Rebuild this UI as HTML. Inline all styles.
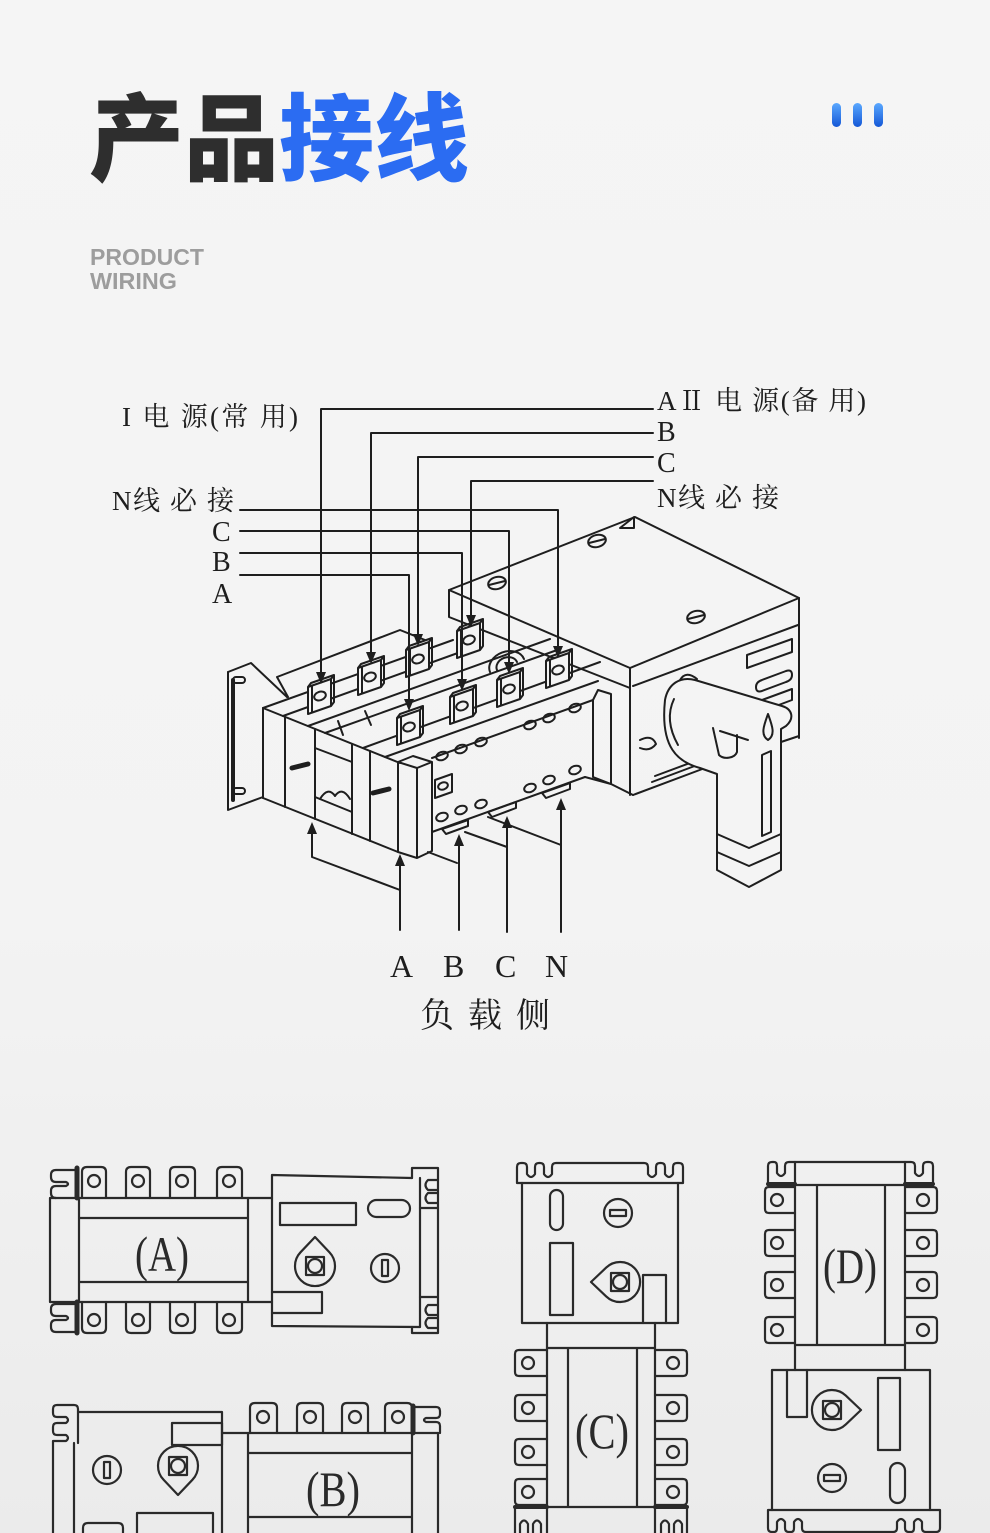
<!DOCTYPE html>
<html><head><meta charset="utf-8"><style>
html,body{margin:0;padding:0;}
body{width:990px;height:1533px;overflow:hidden;background:linear-gradient(to bottom,#f5f5f5 0%,#f3f3f3 60%,#ebebeb 100%);}
svg{display:block;}
.l{fill:none;stroke:#1e1e1e;stroke-width:2;stroke-linejoin:round;stroke-linecap:round;}
.v{fill:none;stroke:#2a2a2a;stroke-width:2.2;stroke-linejoin:round;stroke-linecap:round;}
.t{font-family:"Liberation Serif","Noto Serif CJK SC",serif;fill:#1e1e1e;}
</style></head><body>
<svg width="990" height="1533" viewBox="0 0 990 1533" xmlns="http://www.w3.org/2000/svg">
<defs>
<linearGradient id="bar" x1="0" y1="0" x2="0" y2="1"><stop offset="0" stop-color="#5aa8ff"/><stop offset="1" stop-color="#1457d6"/></linearGradient>
<g id="lug">
<polygon points="-12,-8 11,-16 11,11 -12,19" fill="#f4f4f4" stroke="#1e1e1e" stroke-width="2" stroke-linejoin="round"/>
<path d="M-12,-8 L-9,-12 L14,-20 L11,-16 M14,-20 V7 L11,11 M-8,-9.5 V17.5" fill="none" stroke="#1e1e1e" stroke-width="2" stroke-linejoin="round"/>
<ellipse cx="0" cy="1" rx="6" ry="4.2" transform="rotate(-20 0 1)" fill="none" stroke="#1e1e1e" stroke-width="2"/>
</g>
</defs>

<!-- Title -->
<text x="89" y="173" font-family="'Noto Sans CJK SC','WenQuanYi Zen Hei',sans-serif" font-weight="900" font-size="95" fill="#2e2e2e">产品<tspan fill="#2b6cf2">接线</tspan></text>
<rect x="832" y="103" width="9" height="24" rx="4.5" fill="url(#bar)"/>
<rect x="853" y="103" width="9" height="24" rx="4.5" fill="url(#bar)"/>
<rect x="874" y="103" width="9" height="24" rx="4.5" fill="url(#bar)"/>
<text x="90" y="265" font-family="'Liberation Sans',sans-serif" font-weight="700" font-size="23" fill="#9d9d9d" textLength="114" lengthAdjust="spacingAndGlyphs">PRODUCT</text>
<text x="90" y="289" font-family="'Liberation Sans',sans-serif" font-weight="700" font-size="23" fill="#9d9d9d" textLength="87" lengthAdjust="spacingAndGlyphs">WIRING</text>

<!-- Labels -->
<text class="t" x="122" y="426" font-size="27" textLength="176" lengthAdjust="spacing">I 电 源(常 用)</text>
<text class="t" x="657" y="410" font-size="27" textLength="209" lengthAdjust="spacing">AⅡ 电 源(备 用)</text>
<text class="t" x="657" y="441" font-size="28">B</text>
<text class="t" x="657" y="472" font-size="28">C</text>
<text class="t" x="657" y="507" font-size="27" textLength="122" lengthAdjust="spacing">N线 必 接</text>
<text class="t" x="112" y="510" font-size="27" textLength="122" lengthAdjust="spacing">N线 必 接</text>
<text class="t" x="212" y="541" font-size="28">C</text>
<text class="t" x="212" y="571" font-size="28">B</text>
<text class="t" x="212" y="603" font-size="28">A</text>
<text class="t" x="390" y="977" font-size="32">A</text>
<text class="t" x="443" y="977" font-size="32">B</text>
<text class="t" x="495" y="977" font-size="32">C</text>
<text class="t" x="545" y="977" font-size="32">N</text>
<text class="t" x="420" y="1027" font-size="34" textLength="130" lengthAdjust="spacing">负载侧</text>

<!-- Box (controller) -->
<g class="l">
<path d="M449,590 L635,517 L799,598 L630,668 Z"/>
<path d="M620,528 L634,517 L634,528 Z" fill="#f4f4f4"/>
<path d="M449,590 V617 L630,688"/>
<path d="M630,668 V795 M799,598 V738 M633,686 L798,625 M633,795 L705,768 M781,742 L799,736"/>
<path d="M652,782 L700,764 M655,776 L698,760"/>
<ellipse cx="597" cy="541" rx="9" ry="6" transform="rotate(-15 597 541)"/>
<path d="M589,543 L605,539"/>
<ellipse cx="497" cy="583" rx="9" ry="6" transform="rotate(-15 497 583)"/>
<path d="M489,585 L505,581"/>
<ellipse cx="696" cy="617" rx="9" ry="6" transform="rotate(-15 696 617)"/>
<path d="M688,619 L704,615"/>
<path d="M747,655 L792,639 L792,652 L747,668 Z"/>
<path d="M762,680 L786,671 Q792,669 792,675 Q792,680 786,682 L762,691 Q756,693 756,687 Q756,682 762,680 Z"/>
<path d="M762,700 L792,689 L792,700 L768,709"/>
</g>

<!-- Handle -->
<g class="l">
<path d="M665,700 C668,684 680,676 695,680 L782,706 C792,709 795,718 786,726 L781,729 L781,870 L749,887 L717,870 L717,774 L700,768 C678,762 660,748 665,700 Z" fill="#f4f4f4"/>
<path d="M717,834 L749,848 L781,834 M717,852 L749,866 L781,852"/>
<path d="M762,755 L771,751 V832 L762,836 Z"/>
<path d="M768,714 C764,725 760,735 768,740 C776,735 772,725 768,714 Z"/>
<path d="M713,728 L719,755 C724,760 735,758 737,752 L737,735 M720,731 L748,740"/>
<path d="M680,680 Q686,670 697,679"/>
<path d="M674,699 Q664,720 678,745"/>
<path d="M640,740 Q652,734 656,744 Q650,752 640,748"/>
</g>

<!-- Switch body -->
<g class="l">
<!-- bracket -->
<path d="M228,672 L251,663 L287,697"/>
<path d="M228,672 V810 L263,797"/>
<path d="M233,680 V800" stroke-width="4"/>
<rect x="233" y="677" width="12" height="6" rx="3"/>
<rect x="233" y="788" width="12" height="6" rx="3"/>
<!-- left face -->
<path d="M263,708 L400,763 M263,798 L398,852"/>
<path d="M263,708 V798 M285,717 V807 M315,729 V819 M352,744 V834 M370,751 V841"/>
<path d="M315,748 L352,762 M315,797 L352,812"/>
<path d="M320,799 Q328,786 335,796 Q342,786 350,799"/>
<path d="M292,768 L308,764 M373,793 L389,789" stroke-width="5"/>
<!-- front block -->
<path d="M398,762 L413,756 L432,762 L417,768 Z M398,762 V852 L417,858 L432,851 V762 M417,768 V858"/>
<!-- panel -->
<path d="M432,758 L593,700 M432,832 L585,777"/>
<path d="M593,700 V777 L611,784 V694 L598,690 L593,700 M611,784 L633,795"/>
<path d="M585,777 L611,784"/>
<path d="M435,780 L452,774 V792 L435,798 Z"/>
<ellipse cx="443" cy="786" rx="5" ry="3.5" transform="rotate(-20 443 786)"/>
<g>
<ellipse cx="442" cy="756" rx="6" ry="4" transform="rotate(-20 442 756)"/>
<ellipse cx="461" cy="749" rx="6" ry="4" transform="rotate(-20 461 749)"/>
<ellipse cx="481" cy="742" rx="6" ry="4" transform="rotate(-20 481 742)"/>
<ellipse cx="530" cy="725" rx="6" ry="4" transform="rotate(-20 530 725)"/>
<ellipse cx="549" cy="718" rx="6" ry="4" transform="rotate(-20 549 718)"/>
<ellipse cx="575" cy="708" rx="6" ry="4" transform="rotate(-20 575 708)"/>
<ellipse cx="442" cy="817" rx="6" ry="4" transform="rotate(-20 442 817)"/>
<ellipse cx="461" cy="810" rx="6" ry="4" transform="rotate(-20 461 810)"/>
<ellipse cx="481" cy="804" rx="6" ry="4" transform="rotate(-20 481 804)"/>
<ellipse cx="530" cy="788" rx="6" ry="4" transform="rotate(-20 530 788)"/>
<ellipse cx="549" cy="780" rx="6" ry="4" transform="rotate(-20 549 780)"/>
<ellipse cx="575" cy="770" rx="6" ry="4" transform="rotate(-20 575 770)"/>
</g>
<!-- load tabs -->
<path d="M442,829 L468,820 V826 L446,834 Z M488,812 L516,802 V808 L492,817 Z M542,793 L570,783 V789 L546,798 Z"/>
<path d="M428,852 L457,863 M465,832 L507,847 M488,817 L561,845"/>
<!-- top surface -->
<path d="M277,677 L400,630 L425,640 M277,677 L288,697"/>
<path d="M263,708 L453,640"/>
<path d="M283,716 L480,645"/>
<path d="M308,726 L550,639"/>
<path d="M325,733 L560,649"/>
<path d="M363,748 L600,662"/>
<path d="M385,757 L598,681"/>
<path d="M338,721 L343,735 M365,711 L371,725"/>
<path d="M490,672 A17,13 -20 0 1 524,659 M497,670 A10,8 -20 0 1 517,662"/>
</g>

<!-- lugs -->
<use href="#lug" x="320" y="695"/>
<use href="#lug" x="370" y="676"/>
<use href="#lug" x="418" y="658"/>
<use href="#lug" x="469" y="639"/>
<use href="#lug" x="558" y="669"/>
<use href="#lug" x="509" y="688"/>
<use href="#lug" x="462" y="705"/>
<use href="#lug" x="409" y="726"/>

<!-- leader lines -->
<g class="l">
<path d="M653,409 H321 V672"/>
<path d="M653,433 H371 V652"/>
<path d="M653,457 H418 V634"/>
<path d="M653,481 H471 V615"/>
<path d="M240,510 H558 V646"/>
<path d="M240,531 H509 V662"/>
<path d="M240,553 H462 V679"/>
<path d="M240,575 H409 V699"/>
<path d="M312,834 V857 L400,890"/>
<path d="M400,866 V930 M459,846 V930 M507,828 V932 M561,810 V932"/>
</g>
<g fill="#1e1e1e">
<polygon points="316,672 326,672 321,684"/>
<polygon points="366,652 376,652 371,664"/>
<polygon points="413,634 423,634 418,646"/>
<polygon points="466,615 476,615 471,627"/>
<polygon points="553,646 563,646 558,658"/>
<polygon points="504,662 514,662 509,674"/>
<polygon points="457,679 467,679 462,691"/>
<polygon points="404,699 414,699 409,711"/>
<polygon points="307,834 317,834 312,822"/>
<polygon points="395,866 405,866 400,854"/>
<polygon points="454,846 464,846 459,834"/>
<polygon points="502,828 512,828 507,816"/>
<polygon points="556,810 566,810 561,798"/>
</g>

<!-- ===== View A ===== -->
<g class="v">
<path d="M82,1198 V1172 Q82,1167 87,1167 H101 Q106,1167 106,1172 V1198"/>
<path d="M126,1198 V1172 Q126,1167 131,1167 H145 Q150,1167 150,1172 V1198"/>
<path d="M170,1198 V1172 Q170,1167 175,1167 H190 Q195,1167 195,1172 V1198"/>
<path d="M217,1198 V1172 Q217,1167 222,1167 H237 Q242,1167 242,1172 V1198"/>
<circle cx="94" cy="1181" r="6"/><circle cx="138" cy="1181" r="6"/><circle cx="182" cy="1181" r="6"/><circle cx="229" cy="1181" r="6"/>
<path d="M82,1302 V1328 Q82,1333 87,1333 H101 Q106,1333 106,1328 V1302"/>
<path d="M126,1302 V1328 Q126,1333 131,1333 H145 Q150,1333 150,1328 V1302"/>
<path d="M170,1302 V1328 Q170,1333 175,1333 H190 Q195,1333 195,1328 V1302"/>
<path d="M217,1302 V1328 Q217,1333 222,1333 H237 Q242,1333 242,1328 V1302"/>
<circle cx="94" cy="1320" r="6"/><circle cx="138" cy="1320" r="6"/><circle cx="182" cy="1320" r="6"/><circle cx="229" cy="1320" r="6"/>
<path d="M78,1170 H56 Q51,1170 51,1175 V1177 Q51,1182 56,1182 H66 Q70,1184 66,1186 H56 Q51,1186 51,1191 V1193 Q51,1198 56,1198"/>
<path d="M78,1304 H56 Q51,1304 51,1309 V1311 Q51,1316 56,1316 H66 Q70,1318 66,1320 H56 Q51,1320 51,1325 V1327 Q51,1332 56,1332 H78"/>
<path d="M77,1168 V1198 M77,1302 V1333" stroke-width="5"/>
<rect x="50" y="1198" width="198" height="104"/>
<path d="M79,1198 V1302 M79,1218 H247 M79,1282 H247"/>
<path d="M248,1198 H272 M248,1302 H272"/>
<path d="M272,1175 L412,1178 M272,1175 V1326 L420,1327 M420,1178 V1327"/>
<path d="M412,1178 V1168 H438 V1208 H420 M438,1180 H428 Q423,1185 428,1190 H438 M438,1193 H428 Q423,1198 428,1203 H438"/>
<path d="M438,1208 V1297 M420,1297 H438 V1333 H412 V1327 M438,1305 H428 Q423,1310 428,1315 H438 M438,1318 H428 Q423,1323 428,1328 H438"/>
<rect x="280" y="1203" width="76" height="22"/>
<rect x="368" y="1200" width="42" height="17" rx="8.5"/>
<path d="M315,1237 L329.4,1252.2 A20,20 0 1 1 300.6,1252.2 Z"/>
<rect x="306" y="1257" width="18" height="18"/><circle cx="315" cy="1266" r="7"/>
<circle cx="385" cy="1268" r="14"/><rect x="382" y="1260" width="6" height="16"/>
<path d="M272,1292 H322 V1313 H272"/>
</g>
<text x="135" y="1271" font-family="'Liberation Serif',serif" font-size="50" fill="#2a2a2a" textLength="54" lengthAdjust="spacingAndGlyphs">(A)</text>

<!-- ===== View B ===== -->
<g class="v">
<path d="M78,1412 V1409 Q78,1405 74,1405 H57 Q53,1405 53,1409 V1413 Q53,1417 57,1417 H66 Q70,1420 66,1423 H57 Q53,1423 53,1427 V1431 Q53,1435 57,1435 H66 Q70,1438 66,1441 H53 V1533"/>
<path d="M74,1443 V1533 M78,1412 H222 V1533 M78,1412 V1443"/>
<rect x="172" y="1423" width="50" height="22"/>
<circle cx="107" cy="1470" r="14"/><rect x="104" y="1462" width="6" height="16"/>
<path d="M178,1495 L163.6,1479.8 A20,20 0 1 1 192.4,1479.8 Z"/>
<rect x="169" y="1457" width="18" height="18"/><circle cx="178" cy="1466" r="7"/>
<path d="M137,1535 V1513 H213 V1535 M83,1535 V1528 Q83,1523 88,1523 H118 Q123,1523 123,1528 V1535"/>
<path d="M222,1433 H248 M248,1433 V1535 M412,1433 V1535 M248,1433 H438 M248,1453 H412 M248,1517 H412"/>
<path d="M250,1433 V1408 Q250,1403 255,1403 H272 Q277,1403 277,1408 V1433"/>
<path d="M297,1433 V1408 Q297,1403 302,1403 H318 Q323,1403 323,1408 V1433"/>
<path d="M342,1433 V1408 Q342,1403 347,1403 H363 Q368,1403 368,1408 V1433"/>
<path d="M385,1433 V1408 Q385,1403 390,1403 H407 Q412,1403 412,1408 V1433"/>
<circle cx="263" cy="1417" r="6"/><circle cx="310" cy="1417" r="6"/><circle cx="355" cy="1417" r="6"/><circle cx="398" cy="1417" r="6"/>
<path d="M413,1406 V1433" stroke-width="5"/>
<path d="M415,1407 H436 Q440,1407 440,1411 V1414 Q440,1418 436,1418 H426 Q422,1420 426,1422 H436 Q440,1422 440,1426 V1433 M438,1433 V1535"/>
</g>
<text x="306" y="1506" font-family="'Liberation Serif',serif" font-size="50" fill="#2a2a2a" textLength="54" lengthAdjust="spacingAndGlyphs">(B)</text>

<!-- ===== View C ===== -->
<g class="v">
<path d="M522,1183 H517 V1167 Q517,1163 521,1163 H523 Q527,1163 527,1167 V1174 Q531,1180 535,1174 V1167 Q535,1163 539,1163 H540 Q544,1163 544,1167 V1174 Q548,1180 552,1174 V1167 Q552,1163 556,1163 H644 Q648,1163 648,1167 V1174 Q652,1180 656,1174 V1167 Q656,1163 660,1163 H661 Q665,1163 665,1167 V1174 Q669,1180 673,1174 V1167 Q673,1163 677,1163 H679 Q683,1163 683,1167 V1183 H678"/>
<rect x="522" y="1183" width="156" height="140"/>
<rect x="550" y="1190" width="13" height="40" rx="6.5"/>
<circle cx="618" cy="1213" r="14"/><rect x="610" y="1210" width="16" height="6"/>
<rect x="550" y="1243" width="23" height="72"/>
<path d="M591,1282 L606.2,1267.6 A20,20 0 1 1 606.2,1296.4 Z"/>
<rect x="611" y="1273" width="18" height="18"/><circle cx="620" cy="1282" r="7"/>
<path d="M643,1323 V1275 H666 V1323"/>
<path d="M547,1323 V1535 M655,1323 V1535 M547,1348 H655 M568,1348 V1507 M637,1348 V1507 M547,1507 H655"/>
<path d="M547,1350 H519 Q515,1350 515,1354 V1372 Q515,1376 519,1376 H547"/>
<path d="M547,1395 H519 Q515,1395 515,1399 V1417 Q515,1421 519,1421 H547"/>
<path d="M547,1439 H519 Q515,1439 515,1443 V1461 Q515,1465 519,1465 H547"/>
<path d="M547,1479 H519 Q515,1479 515,1483 V1501 Q515,1505 519,1505 H547"/>
<path d="M655,1350 H683 Q687,1350 687,1354 V1372 Q687,1376 683,1376 H655"/>
<path d="M655,1395 H683 Q687,1395 687,1399 V1417 Q687,1421 683,1421 H655"/>
<path d="M655,1439 H683 Q687,1439 687,1443 V1461 Q687,1465 683,1465 H655"/>
<path d="M655,1479 H683 Q687,1479 687,1483 V1501 Q687,1505 683,1505 H655"/>
<circle cx="528" cy="1363" r="6"/><circle cx="528" cy="1408" r="6"/><circle cx="528" cy="1452" r="6"/><circle cx="528" cy="1492" r="6"/>
<circle cx="673" cy="1363" r="6"/><circle cx="673" cy="1408" r="6"/><circle cx="673" cy="1452" r="6"/><circle cx="673" cy="1492" r="6"/>
<path d="M515,1507 H547 M655,1507 H687" stroke-width="4"/>
<path d="M515,1509 V1535 M520,1535 V1524 Q524,1517 528,1524 V1535 M533,1535 V1524 Q537,1517 541,1524 V1535"/>
<path d="M687,1509 V1535 M682,1535 V1524 Q678,1517 674,1524 V1535 M669,1535 V1524 Q665,1517 661,1524 V1535"/>
</g>
<text x="575" y="1448" font-family="'Liberation Serif',serif" font-size="50" fill="#2a2a2a" textLength="54" lengthAdjust="spacingAndGlyphs">(C)</text>

<!-- ===== View D ===== -->
<g class="v">
<path d="M795,1185 H768 V1166 Q768,1162 772,1162 H774 Q777,1162 777,1166 V1173 Q781,1179 785,1173 V1166 Q785,1162 789,1162 H911 Q915,1162 915,1166 V1173 Q919,1179 923,1173 V1166 Q923,1162 927,1162 H929 Q933,1162 933,1166 V1185 H905"/>
<path d="M768,1184 H795 M905,1184 H933" stroke-width="4"/>
<path d="M795,1162 V1370 M905,1162 V1370 M795,1185 H905 M795,1345 H905 M817,1185 V1345 M885,1185 V1345"/>
<path d="M795,1187 H769 Q765,1187 765,1191 V1209 Q765,1213 769,1213 H795"/>
<path d="M795,1230 H769 Q765,1230 765,1234 V1252 Q765,1256 769,1256 H795"/>
<path d="M795,1272 H769 Q765,1272 765,1276 V1294 Q765,1298 769,1298 H795"/>
<path d="M795,1317 H769 Q765,1317 765,1321 V1339 Q765,1343 769,1343 H795"/>
<path d="M905,1187 H933 Q937,1187 937,1191 V1209 Q937,1213 933,1213 H905"/>
<path d="M905,1230 H933 Q937,1230 937,1234 V1252 Q937,1256 933,1256 H905"/>
<path d="M905,1272 H933 Q937,1272 937,1276 V1294 Q937,1298 933,1298 H905"/>
<path d="M905,1317 H933 Q937,1317 937,1321 V1339 Q937,1343 933,1343 H905"/>
<circle cx="777" cy="1200" r="6"/><circle cx="777" cy="1243" r="6"/><circle cx="777" cy="1285" r="6"/><circle cx="777" cy="1330" r="6"/>
<circle cx="923" cy="1200" r="6"/><circle cx="923" cy="1243" r="6"/><circle cx="923" cy="1285" r="6"/><circle cx="923" cy="1330" r="6"/>
<rect x="772" y="1370" width="158" height="140"/>
<path d="M787,1370 V1417 H807 V1370"/>
<path d="M861,1410 L845.8,1424.4 A20,20 0 1 1 845.8,1395.6 Z"/>
<rect x="823" y="1401" width="18" height="18"/><circle cx="832" cy="1410" r="7"/>
<rect x="878" y="1378" width="22" height="72"/>
<circle cx="832" cy="1478" r="14"/><rect x="824" y="1475" width="16" height="6"/>
<rect x="890" y="1463" width="15" height="40" rx="7.5"/>
<path d="M772,1510 H768 V1528 Q768,1532 772,1532 H774 Q777,1532 777,1528 V1522 Q781,1516 785,1522 V1528 Q785,1532 789,1532 H791 Q794,1532 794,1528 V1522 Q798,1516 802,1522 V1528 Q802,1532 806,1532 H893 Q897,1532 897,1528 V1522 Q901,1516 905,1522 V1528 Q905,1532 909,1532 H911 Q914,1532 914,1528 V1522 Q918,1516 922,1522 V1528 Q922,1532 926,1532 H936 Q940,1532 940,1528 V1510 H930"/>
</g>
<text x="823" y="1283" font-family="'Liberation Serif',serif" font-size="50" fill="#2a2a2a" textLength="54" lengthAdjust="spacingAndGlyphs">(D)</text>
</svg>
</body></html>
